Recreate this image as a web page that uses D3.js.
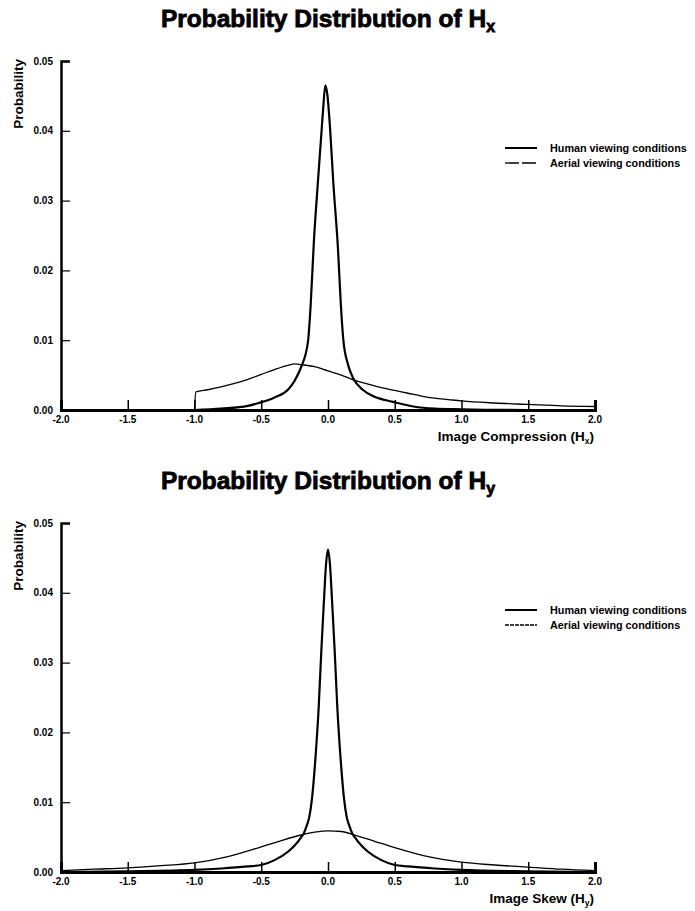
<!DOCTYPE html>
<html>
<head>
<meta charset="utf-8">
<script src="https://cdn.jsdelivr.net/npm/d3@7"></script>
<style>
  html, body { margin: 0; padding: 0; background: #fff; }
  svg { display: block; }
  text { font-family: "Liberation Sans", Arial, sans-serif; font-weight: bold; fill: #000; }
</style>
</head>
<body>
<script>
// ---------- data ----------
const xTickValues = [-2.0, -1.5, -1.0, -0.5, 0.0, 0.5, 1.0, 1.5, 2.0];
const xTickLabels = ["-2.0", "-1.5", "-1.0", "-0.5", "0.0", "0.5", "1.0", "1.5", "2.0"];
const yTickValues = [0.00, 0.01, 0.02, 0.03, 0.04, 0.05];
const yTickLabels = ["0.00", "0.01", "0.02", "0.03", "0.04", "0.05"];
const seriesNames = ["Human viewing conditions", "Aerial viewing conditions"];

// Hx panel
const hxHumanX = [-1.0, -0.8, -0.6, -0.52, -0.4, -0.3, -0.25, -0.2, -0.15, -0.13, -0.105, -0.08, -0.05, -0.035, -0.02, -0.005, 0.015, 0.04, 0.075, 0.095, 0.115, 0.15, 0.19, 0.26, 0.35, 0.48, 0.64, 0.8, 1.0, 1.5, 2.0];
const hxHumanP = [0.0000, 0.0002, 0.0006, 0.0010, 0.0018, 0.0029, 0.0042, 0.0062, 0.0098, 0.0150, 0.0244, 0.0315, 0.0395, 0.0435, 0.0465, 0.0452, 0.0405, 0.0325, 0.0230, 0.0155, 0.0100, 0.0065, 0.0045, 0.0029, 0.0019, 0.0012, 0.0005, 0.0002, 0.0001, 0.0000, 0.0000];
const hxAerialX = [-1.0, -0.99, -0.9, -0.8, -0.7, -0.6, -0.5, -0.4, -0.3, -0.25, -0.2, -0.1, 0.0, 0.1, 0.19, 0.3, 0.4, 0.5, 0.6, 0.7, 0.8, 0.9, 1.0, 1.25, 1.5, 1.75, 2.0];
const hxAerialP = [0.0000, 0.0026, 0.0029, 0.0033, 0.0038, 0.0044, 0.0051, 0.0058, 0.0064, 0.0066, 0.0065, 0.0062, 0.0056, 0.0050, 0.0043, 0.0037, 0.0032, 0.0028, 0.0024, 0.0020, 0.0017, 0.0015, 0.0013, 0.0010, 0.0008, 0.0006, 0.0005];

// Hy panel
const hyHumanX = [-2.0, -1.5, -1.0, -0.8, -0.6, -0.5, -0.4, -0.3, -0.25, -0.2, -0.18, -0.16, -0.14, -0.12, -0.1, -0.09, -0.07, -0.05, -0.03, -0.015, 0.0, 0.015, 0.03, 0.05, 0.07, 0.09, 0.1, 0.12, 0.14, 0.16, 0.18, 0.2, 0.25, 0.3, 0.4, 0.5, 0.6, 0.8, 1.0, 1.5, 2.0];
const hyHumanP = [0.0000, 0.0001, 0.0003, 0.0005, 0.0008, 0.0010, 0.0017, 0.0029, 0.0038, 0.0050, 0.0056, 0.0066, 0.0079, 0.0105, 0.0148, 0.0174, 0.0235, 0.0317, 0.0390, 0.0440, 0.0462, 0.0440, 0.0390, 0.0317, 0.0235, 0.0174, 0.0148, 0.0105, 0.0079, 0.0066, 0.0056, 0.0050, 0.0038, 0.0029, 0.0017, 0.0010, 0.0008, 0.0005, 0.0003, 0.0001, 0.0000];
const hyAerialX = [-2.0, -1.75, -1.5, -1.25, -1.0, -0.75, -0.5, -0.35, -0.2, -0.1, 0.0, 0.1, 0.2, 0.35, 0.5, 0.75, 1.0, 1.25, 1.5, 1.75, 2.0];
const hyAerialP = [0.0002, 0.0004, 0.0006, 0.0009, 0.0013, 0.0022, 0.0036, 0.0045, 0.0053, 0.0057, 0.0059, 0.0058, 0.0053, 0.0044, 0.0035, 0.0022, 0.0014, 0.0010, 0.0007, 0.0004, 0.0002];

// ---------- drawing ----------
const W = 695, H = 911;
const svg = d3.select("body").append("svg").attr("width", W).attr("height", H);

function panel(opts) {
  const { top, titleSub, axisTitle, axisSub, humanX, humanP, aerialX, aerialP, legendDash } = opts;
  const g = svg.append("g").attr("transform", `translate(0,${top})`);
  const x = d3.scaleLinear().domain([-2, 2]).range([61, 595]);
  const y = d3.scaleLinear().domain([0, 0.05]).range([410, 61]);

  // title
  const t = g.append("text").attr("x", 328).attr("y", 27).attr("text-anchor", "middle")
    .style("font-size", "24.5px").style("stroke", "#000").style("stroke-width", "0.8px");
  t.append("tspan").text("Probability Distribution of H");
  t.append("tspan").attr("dy", 5).style("font-size", "16px").text(titleSub);

  // y axis
  const yAxis = d3.axisRight(y).tickValues(yTickValues).tickSize(9).tickFormat(() => "");
  const ya = g.append("g").attr("transform", `translate(${x(-2)},0)`).call(yAxis);
  ya.select(".domain").attr("stroke", "#000").attr("stroke-width", 2.5);
  ya.selectAll(".tick line").attr("stroke", "#000").attr("stroke-width", 1.2);
  g.append("g").selectAll("text").data(yTickValues).join("text")
    .attr("x", x(-2) - 8).attr("y", d => y(d) + 3.5).attr("text-anchor", "end")
    .style("font-size", "10px").text((d, i) => yTickLabels[i]);

  // y label
  g.append("text").attr("transform", `translate(23,${y(0.05) - 2}) rotate(-90)`)
    .attr("text-anchor", "end").style("font-size", "13.5px").text("Probability");

  // x axis
  const xAxis = d3.axisTop(x).tickValues(xTickValues).tickSize(10).tickFormat(() => "");
  const xa = g.append("g").attr("transform", `translate(0,${y(0)})`).call(xAxis);
  xa.select(".domain").attr("stroke", "#000").attr("stroke-width", 3);
  xa.selectAll(".tick line").attr("stroke", "#000").attr("stroke-width", 1.5);
  g.append("g").selectAll("text").data(xTickValues).join("text")
    .attr("x", d => x(d)).attr("y", y(0) + 13).attr("text-anchor", "middle")
    .style("font-size", "10px").text((d, i) => xTickLabels[i]);

  // x label
  const xl = g.append("text").attr("x", 594).attr("y", 441).attr("text-anchor", "end")
    .style("font-size", "13.5px");
  xl.append("tspan").text(axisTitle + " (H");
  xl.append("tspan").attr("dy", 3).style("font-size", "8.5px").text(axisSub);
  xl.append("tspan").attr("dy", -3).text(")");

  // curves
  const line = d3.line().x(d => x(d[0])).y(d => y(d[1])).curve(d3.curveMonotoneX);
  g.append("path").datum(aerialX.map((v, i) => [v, aerialP[i]]))
    .attr("d", line).attr("fill", "none").attr("stroke", "#000").attr("stroke-width", 1.3);
  g.append("path").datum(humanX.map((v, i) => [v, humanP[i]]))
    .attr("d", line).attr("fill", "none").attr("stroke", "#000").attr("stroke-width", 2.2)
    .attr("stroke-linejoin", "round");

  // legend
  const lg = g.append("g").attr("transform", "translate(505,148)");
  seriesNames.forEach((name, i) => {
    lg.append("line").attr("x1", 0).attr("x2", 32).attr("y1", i * 15).attr("y2", i * 15)
      .attr("stroke", "#000").attr("stroke-width", i === 0 ? 2 : 1.3)
      .attr("stroke-dasharray", i === 0 ? null : legendDash);
    lg.append("text").attr("x", 45).attr("y", i * 15 + 3.5).style("font-size", "10.8px").text(name);
  });
}

panel({ top: 0, titleSub: "x", axisTitle: "Image Compression", axisSub: "x",
        humanX: hxHumanX, humanP: hxHumanP, aerialX: hxAerialX, aerialP: hxAerialP, legendDash: "14,3" });
panel({ top: 462, titleSub: "y", axisTitle: "Image Skew", axisSub: "y",
        humanX: hyHumanX, humanP: hyHumanP, aerialX: hyAerialX, aerialP: hyAerialP, legendDash: "4,1" });
</script>
</body>
</html>
